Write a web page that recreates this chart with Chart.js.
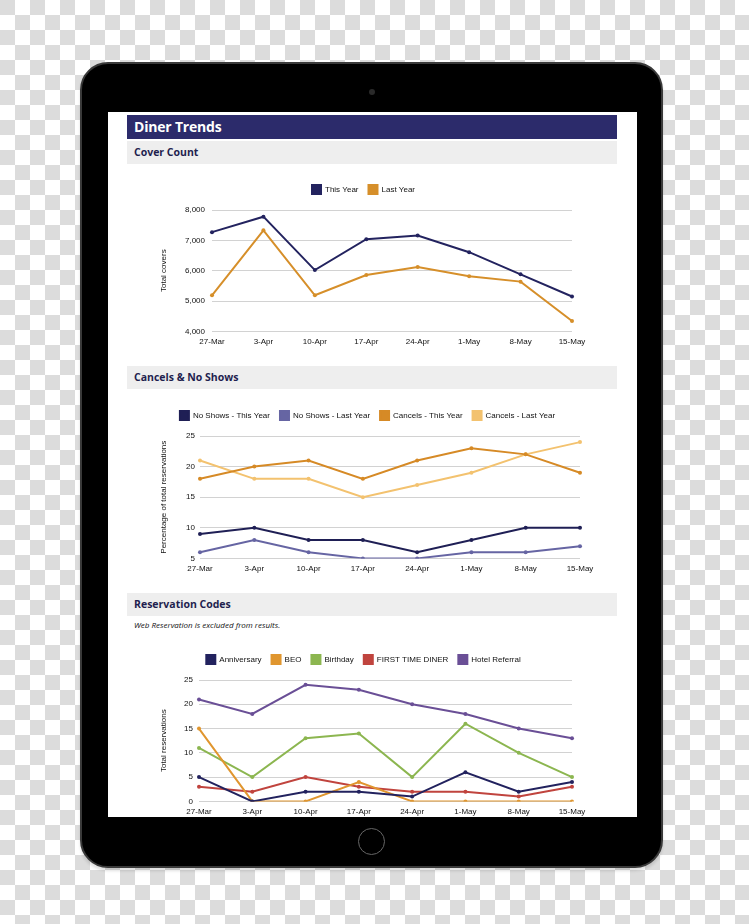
<!DOCTYPE html>
<html>
<head>
<meta charset="utf-8">
<script src="https://cdn.jsdelivr.net/npm/chart.js@4.4.1/dist/chart.umd.min.js"></script>
<style>
  html, body { margin: 0; padding: 0; }
  body {
    width: 749px; height: 924px; position: relative; overflow: hidden;
    background-color: #fff;
    background-image:
      linear-gradient(45deg, #dcdcdc 25%, transparent 25%, transparent 75%, #dcdcdc 75%),
      linear-gradient(45deg, #dcdcdc 25%, transparent 25%, transparent 75%, #dcdcdc 75%);
    background-size: 30px 30px;
    background-position: 15px 0, 0 15px;
  }
  .tablet {
    position: absolute; left: 80px; top: 62px; width: 579px; height: 802px;
    background: #000; border: 2px solid #3a3a3a; border-radius: 28px;
    box-shadow: 0 3px 3px rgba(0,0,0,0.12);
  }
  .camera {
    position: absolute; left: 369px; top: 89px; width: 6px; height: 6px;
    border-radius: 50%; background: #2a2a2a;
  }
  .home {
    position: absolute; left: 358px; top: 828px; width: 25px; height: 25px;
    border-radius: 50%; border: 1.5px solid #666;
  }
  .screen {
    position: absolute; left: 108px; top: 112px; width: 529px; height: 705px;
    background: #fff;
  }
  .title {
    position: absolute; left: 127px; top: 115px; width: 483px; height: 24px;
    background: #2c2b6b; color: #fff; padding-left: 7px;
    font: bold 14px "Open Sans", sans-serif; line-height: 24px; letter-spacing: -0.2px;
  }
  .band {
    position: absolute; left: 127px; width: 483px; height: 23px;
    background: #eeeeee; color: #1f1f4f; padding-left: 7px;
    font: bold 10.5px "Open Sans", sans-serif; line-height: 23px;
  }
  .note {
    position: absolute; left: 134px; top: 619px;
    font: italic 8px "Open Sans", sans-serif; color: #111;
  }
  .chart { position: absolute; }
</style>
</head>
<body>
<div class="tablet"></div>
<div class="camera"></div>
<div class="home"></div>
<div class="screen"></div>
<div class="title">Diner Trends</div>
<div class="band" style="top:141px">Cover Count</div>
<div class="band" style="top:366px">Cancels &amp; No Shows</div>
<div class="band" style="top:593px">Reservation Codes</div>
<div class="note">Web Reservation is excluded from results.</div>

<div class="chart" style="left:155px; top:175px; width:437px; height:178px"><canvas id="coversChart"></canvas></div>
<div class="chart" style="left:155px; top:401px; width:445px; height:179px"><canvas id="cancelsChart"></canvas></div>
<div class="chart" style="left:155px; top:645px; width:437px; height:178px"><canvas id="codesChart"></canvas></div>

<script>
// week labels shared by all three charts
const weeks = ['27-Mar', '3-Apr', '10-Apr', '17-Apr', '24-Apr', '1-May', '8-May', '15-May'];

// Cover Count
const coversThisYear = [7270, 7780, 6020, 7040, 7160, 6610, 5880, 5150];
const coversLastYear = [5190, 7330, 5190, 5860, 6120, 5820, 5640, 4340];

// Cancels & No Shows (% of total reservations)
const noShowsThisYear = [9, 10, 8, 8, 6, 8, 10, 10];
const noShowsLastYear = [6, 8, 6, 5, 5, 6, 6, 7];
const cancelsThisYear = [18, 20, 21, 18, 21, 23, 22, 19];
const cancelsLastYear = [21, 18, 18, 15, 17, 19, 22, 24];

// Reservation Codes (total reservations)
const anniversary = [5, 0, 2, 2, 1, 6, 2, 4];
const beo = [15, 0, 0, 4, 0, 0, 0, 0];
const birthday = [11, 5, 13, 14, 5, 16, 10, 5];
const firstTimeDiner = [3, 2, 5, 3, 2, 2, 1, 3];
const hotelReferral = [21, 18, 24, 23, 20, 18, 15, 13];

const tickFont = { family: '"Liberation Sans", Arial, sans-serif', size: 8 };

// extra space between legend and plot
const legendGap = {
    id: 'legendGap',
    beforeInit(chart) {
        const fit = chart.legend.fit;
        chart.legend.fit = function() {
            fit.bind(chart.legend)();
            this.height += 6;
        };
    }
};

function line(label, data, color) {
    return {
        label: label,
        data: data,
        borderColor: color,
        backgroundColor: color,
        borderWidth: 2,
        pointRadius: 2,
        pointHoverRadius: 3,
        pointBorderWidth: 0,
        pointBackgroundColor: color,
        tension: 0
    };
}

function makeChart(id, datasets, yTitle, yMin, yMax, yStep, axisWidth, tickPad) {
    const ctx = document.getElementById(id).getContext('2d');
    return new Chart(ctx, {
        type: 'line',
        data: { labels: weeks, datasets: datasets },
        plugins: [legendGap],
        options: {
            responsive: true,
            maintainAspectRatio: false,
            animation: false,
            layout: { padding: { right: 20 } },
            plugins: {
                legend: {
                    position: 'top',
                    labels: {
                        boxWidth: 9,
                        boxHeight: 9,
                        padding: 10,
                        color: '#111',
                        font: tickFont
                    }
                },
                tooltip: { enabled: false }
            },
            scales: {
                x: {
                    offset: false,
                    grid: { display: false, drawTicks: false },
                    border: { display: false },
                    ticks: { color: '#111', font: tickFont, padding: 6, maxRotation: 0, autoSkip: false }
                },
                y: {
                    min: yMin,
                    max: yMax,
                    grid: { color: '#d2d2d2', drawTicks: false },
                    border: { display: false },
                    ticks: { stepSize: yStep, color: '#111', font: tickFont, padding: tickPad },
                    title: {
                        display: true,
                        text: yTitle,
                        color: '#111',
                        font: tickFont,
                        padding: { top: 4, bottom: 0 }
                    },
                    afterFit: function(scale) { scale.width = axisWidth; }
                }
            }
        }
    });
}

makeChart('coversChart', [
    line('This Year', coversThisYear, '#23235f'),
    line('Last Year', coversLastYear, '#d68f2a')
], 'Total covers', 4000, 8000, 1000, 57, 7);

makeChart('cancelsChart', [
    line('No Shows - This Year', noShowsThisYear, '#1f1f55'),
    line('No Shows - Last Year', noShowsLastYear, '#6665a3'),
    line('Cancels - This Year', cancelsThisYear, '#d68a26'),
    line('Cancels - Last Year', cancelsLastYear, '#f3c26f')
], 'Percentage of total reservations', 5, 25, 5, 45, 5);

makeChart('codesChart', [
    line('Anniversary', anniversary, '#22225e'),
    line('BEO', beo, '#e0962f'),
    line('Birthday', birthday, '#8cb650'),
    line('FIRST TIME DINER', firstTimeDiner, '#c0443e'),
    line('Hotel Referral', hotelReferral, '#6a4f96')
], 'Total reservations', 0, 25, 5, 44, 6);
</script>
</body>
</html>
